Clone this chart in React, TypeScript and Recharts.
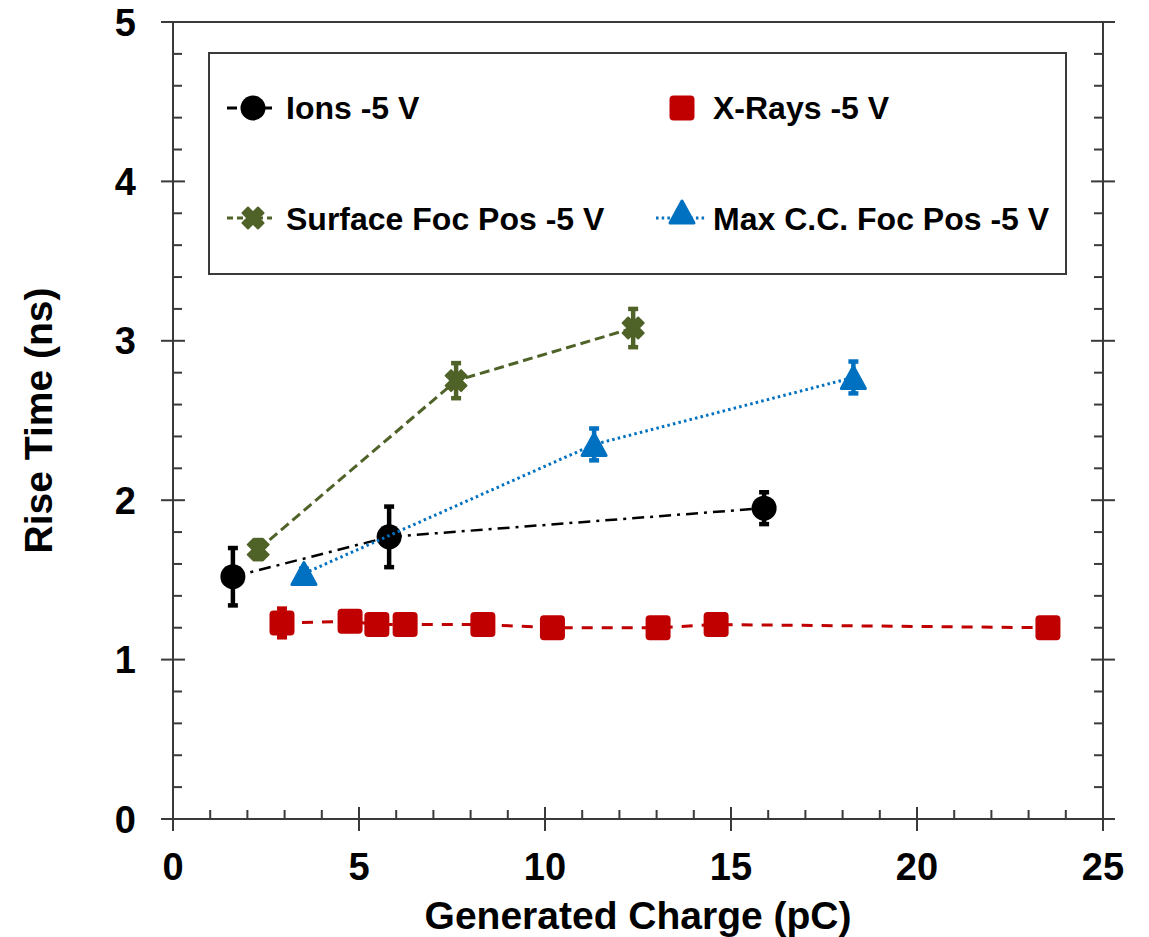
import React from 'react';
import { ScatterChart, Scatter, XAxis, YAxis, ErrorBar, Legend } from 'recharts';

// ---- data ----
const ionsX = [1.61, 5.81, 15.89];
const ionsY = [1.52, 1.77, 1.95];
const ionsErr = [0.18, 0.19, 0.1];

const xrayX = [2.93, 4.76, 5.48, 6.24, 8.33, 10.2, 13.04, 14.6, 23.52];
const xrayY = [1.23, 1.24, 1.22, 1.22, 1.22, 1.2, 1.2, 1.22, 1.2];
const xrayErr = [0.09, 0.05, 0.05, 0.05, 0.05, 0.05, 0.05, 0.05, 0.05];

const surfX = [2.29, 7.61, 12.37];
const surfY = [1.69, 2.75, 3.08];
const surfErr = [0.06, 0.11, 0.12];

const maxX = [3.52, 11.32, 18.29];
const maxY = [1.54, 2.35, 2.77];
const maxErr = [0.03, 0.1, 0.1];

const xTicks = [0, 1, 2, 3, 4, 5, 6, 7, 8, 9, 10, 11, 12, 13, 14, 15, 16, 17, 18, 19, 20, 21, 22, 23, 24, 25];
const yTicks = [0, 0.2, 0.4, 0.6, 0.8, 1, 1.2, 1.4, 1.6, 1.8, 2, 2.2, 2.4, 2.6, 2.8, 3, 3.2, 3.4, 3.6, 3.8, 4, 4.2, 4.4, 4.6, 4.8, 5];

const seriesNames = ['Ions -5 V', 'X-Rays -5 V', 'Surface Foc Pos -5 V', 'Max C.C. Foc Pos -5 V'];

const rows = (xs: number[], ys: number[], es: number[]) => xs.map((x, i) => ({ x, y: ys[i], err: es[i] }));
const ionsData = rows(ionsX, ionsY, ionsErr);
const xrayData = rows(xrayX, xrayY, xrayErr);
const surfData = rows(surfX, surfY, surfErr);
const maxData = rows(maxX, maxY, maxErr);

// ---- styles ----
const FONT = '"Liberation Sans", Arial, sans-serif';
const AX = '#3a3a3a';
const C_ION = '#000000';
const C_XR = '#C00000';
const C_SF = '#4F6228';
const C_MX = '#0070C0';

const DASH_ION = '12 6 3 6';
const DASH_XR = '11 9';
const DASH_SF = '10 5';
const DASH_MX = '2.5 3.2';

// ---- markers ----
const CircleM = ({ cx, cy }: any) => <circle cx={cx} cy={cy} r={12.5} fill={C_ION} />;
const SquareM = ({ cx, cy }: any) => (
  <rect x={cx - 12.5} y={cy - 12.5} width={25} height={25} rx={4} fill={C_XR} />
);
const CrossM = ({ cx, cy }: any) => {
  const s = 10.5;
  const t = 5.5;
  return (
    <g fill={C_SF}>
      <polygon
        points={`${cx - s},${cy - s + t} ${cx - s + t},${cy - s} ${cx + s},${cy + s - t} ${cx + s - t},${cy + s}`}
        stroke={C_SF}
        strokeWidth={2}
        strokeLinejoin="round"
      />
      <polygon
        points={`${cx + s},${cy - s + t} ${cx + s - t},${cy - s} ${cx - s},${cy + s - t} ${cx - s + t},${cy + s}`}
        stroke={C_SF}
        strokeWidth={2}
        strokeLinejoin="round"
      />
    </g>
  );
};
const TriM = ({ cx, cy }: any) => (
  <polygon
    points={`${cx},${cy - 11} ${cx + 12},${cy + 11} ${cx - 12},${cy + 11}`}
    fill={C_MX}
    stroke={C_MX}
    strokeWidth={3}
    strokeLinejoin="round"
  />
);

// ---- ticks ----
const isMajorX = (v: number) => Math.abs(v / 5 - Math.round(v / 5)) < 1e-6;
const isMajorY = (v: number) => Math.abs(v - Math.round(v)) < 1e-6;

const BottomTick = ({ x, y, payload }: any) => {
  const v = payload.value;
  if (isMajorX(v)) {
    return (
      <g>
        <line x1={x} x2={x} y1={y - 12} y2={y + 12} stroke={AX} strokeWidth={2} />
        <text x={x} y={y + 61} textAnchor="middle" fontSize={38} fontWeight="bold" fill="#000" fontFamily={FONT}>
          {v}
        </text>
      </g>
    );
  }
  return <line x1={x} x2={x} y1={y} y2={y - 9} stroke={AX} strokeWidth={2} />;
};
const TopTick = ({ x, y, payload }: any) => {
  const v = payload.value;
  if (isMajorX(v)) return <line x1={x} x2={x} y1={y - 12} y2={y + 12} stroke={AX} strokeWidth={2} />;
  return <line x1={x} x2={x} y1={y} y2={y + 9} stroke={AX} strokeWidth={2} />;
};
const LeftTick = ({ x, y, payload }: any) => {
  const v = payload.value;
  if (isMajorY(v)) {
    return (
      <g>
        <line x1={x - 12} x2={x + 12} y1={y} y2={y} stroke={AX} strokeWidth={2} />
        <text x={x - 37} y={y + 13.5} textAnchor="end" fontSize={38} fontWeight="bold" fill="#000" fontFamily={FONT}>
          {Math.round(v)}
        </text>
      </g>
    );
  }
  return <line x1={x} x2={x + 9} y1={y} y2={y} stroke={AX} strokeWidth={2} />;
};
const RightTick = ({ x, y, payload }: any) => {
  const v = payload.value;
  if (isMajorY(v)) return <line x1={x - 12} x2={x + 12} y1={y} y2={y} stroke={AX} strokeWidth={2} />;
  return <line x1={x - 9} x2={x} y1={y} y2={y} stroke={AX} strokeWidth={2} />;
};

// ---- legend ----
const LegendBox = () => (
  <div style={{ width: 859, height: 223 }}>
    <svg width={859} height={223} style={{ display: 'block' }}>
      <rect x={1} y={1} width={857} height={221} fill="#fff" stroke={AX} strokeWidth={2} />
      <g fontFamily={FONT} fontWeight="bold" fontSize={32} fill="#000">
        <line x1={19} x2={64} y1={56} y2={56} stroke={C_ION} strokeWidth={3} strokeDasharray="10 25 10" />
        <CircleM cx={45} cy={56} />
        <text x={78} y={67}>{seriesNames[0]}</text>

        <SquareM cx={474} cy={56} />
        <text x={505} y={67}>{seriesNames[1]}</text>

        <line x1={19} x2={64} y1={166} y2={166} stroke={C_SF} strokeWidth={3} strokeDasharray="6 4" />
        <CrossM cx={45} cy={166} />
        <text x={78} y={177.5}>{seriesNames[2]}</text>

        <line x1={448} x2={499} y1={166} y2={166} stroke={C_MX} strokeWidth={3} strokeDasharray={DASH_MX} />
        <TriM cx={474} cy={160} />
        <text x={505} y={177.5}>{seriesNames[3]}</text>
      </g>
    </svg>
  </div>
);

export default function App() {
  return (
    <div style={{ position: 'absolute', left: 0, top: 0, width: 1149, height: 937, background: '#fff', fontFamily: FONT }}>
      <ScatterChart width={1149} height={937} margin={{ top: 21, right: 45, bottom: 0, left: 0 }}>
        <XAxis
          xAxisId={0}
          type="number"
          dataKey="x"
          domain={[0, 25]}
          ticks={xTicks}
          interval={0}
          tickSize={0}
          tickMargin={0}
          height={118}
          axisLine={{ stroke: AX, strokeWidth: 2 }}
          tickLine={false}
          tick={<BottomTick />}
          allowDataOverflow
          label={{ value: 'Generated Charge (pC)', position: 'insideBottom', offset: 8, fontSize: 39, fontWeight: 'bold', fill: '#000', fontFamily: FONT }}
        />
        <XAxis
          xAxisId="top"
          orientation="top"
          type="number"
          domain={[0, 25]}
          ticks={xTicks}
          interval={0}
          tickSize={0}
          tickMargin={0}
          height={1}
          axisLine={{ stroke: AX, strokeWidth: 2 }}
          tickLine={false}
          tick={<TopTick />}
          allowDataOverflow
        />
        <YAxis
          yAxisId={0}
          type="number"
          dataKey="y"
          domain={[0, 5]}
          ticks={yTicks}
          interval={0}
          tickSize={0}
          tickMargin={0}
          width={173}
          axisLine={{ stroke: AX, strokeWidth: 2 }}
          tickLine={false}
          tick={<LeftTick />}
          allowDataOverflow
          label={{ value: 'Rise Time (ns)', angle: -90, position: 'insideLeft', offset: 38, fontSize: 39, fontWeight: 'bold', fill: '#000', fontFamily: FONT, style: { textAnchor: 'middle' } }}
        />
        <YAxis
          yAxisId="right"
          orientation="right"
          type="number"
          domain={[0, 5]}
          ticks={yTicks}
          interval={0}
          tickSize={0}
          tickMargin={0}
          width={1}
          axisLine={{ stroke: AX, strokeWidth: 2 }}
          tickLine={false}
          tick={<RightTick />}
          allowDataOverflow
        />
        <Legend
          layout="vertical"
          align="center"
          verticalAlign="middle"
          content={<LegendBox />}
          wrapperStyle={{ position: 'absolute', left: 208, top: 52, width: 859, height: 223 }}
        />
        <Scatter
          name={seriesNames[0]}
          data={ionsData}
          fill={C_ION}
          isAnimationActive={false}
          line={{ stroke: C_ION, strokeWidth: 2.5, strokeDasharray: DASH_ION }}
          lineType="joint"
          shape={(p: any) => <CircleM cx={p.cx} cy={p.cy} />}
        >
          <ErrorBar dataKey="err" direction="y" width={5} strokeWidth={4.5} stroke={C_ION} />
        </Scatter>
        <Scatter
          name={seriesNames[1]}
          data={xrayData}
          fill={C_XR}
          isAnimationActive={false}
          line={{ stroke: C_XR, strokeWidth: 3, strokeDasharray: DASH_XR }}
          lineType="joint"
          shape={(p: any) => <SquareM cx={p.cx} cy={p.cy} />}
        >
          <ErrorBar dataKey="err" direction="y" width={5} strokeWidth={4.5} stroke={C_XR} />
        </Scatter>
        <Scatter
          name={seriesNames[2]}
          data={surfData}
          fill={C_SF}
          isAnimationActive={false}
          line={{ stroke: C_SF, strokeWidth: 3, strokeDasharray: DASH_SF }}
          lineType="joint"
          shape={(p: any) => <CrossM cx={p.cx} cy={p.cy} />}
        >
          <ErrorBar dataKey="err" direction="y" width={5} strokeWidth={4.5} stroke={C_SF} />
        </Scatter>
        <Scatter
          name={seriesNames[3]}
          data={maxData}
          fill={C_MX}
          isAnimationActive={false}
          line={{ stroke: C_MX, strokeWidth: 3, strokeDasharray: DASH_MX }}
          lineType="joint"
          shape={(p: any) => <TriM cx={p.cx} cy={p.cy} />}
        >
          <ErrorBar dataKey="err" direction="y" width={5} strokeWidth={4.5} stroke={C_MX} />
        </Scatter>
      </ScatterChart>
    </div>
  );
}
